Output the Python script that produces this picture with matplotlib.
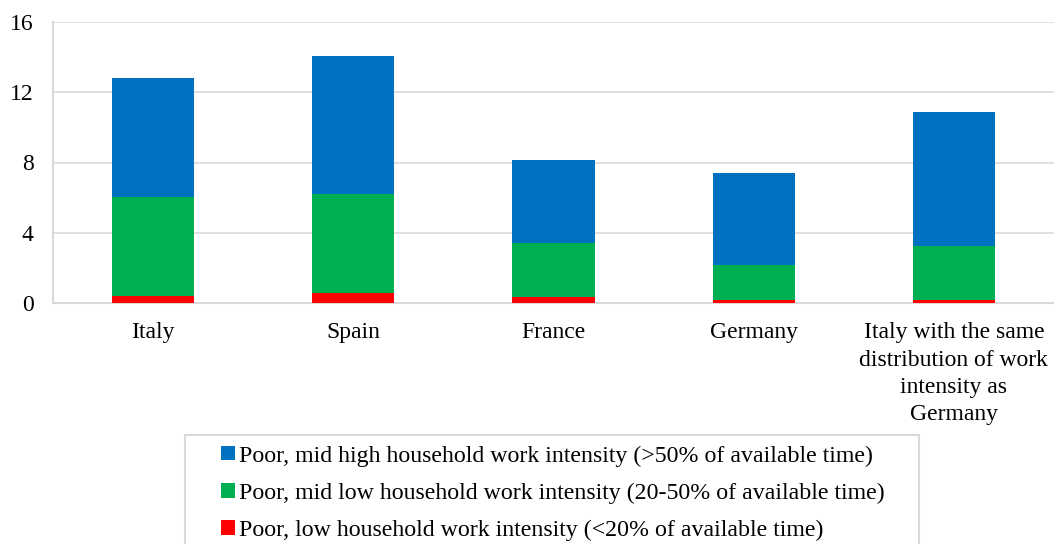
import matplotlib.pyplot as plt
import numpy as np
from matplotlib.patches import Rectangle

plt.rcParams['font.family'] = ['Liberation Serif', 'DejaVu Serif']

countries = ['Italy', 'Spain', 'France', 'Germany',
             'Italy with the same\ndistribution of work\nintensity as\nGermany']
low = [0.42, 0.59, 0.36, 0.19, 0.17]
mid_low = [5.59, 5.59, 3.07, 1.96, 3.09]
mid_high = [6.78, 7.90, 4.71, 5.25, 7.60]

labels = ['Poor, low household work intensity (<20% of available time)',
          'Poor, mid low household work intensity (20-50% of available time)',
          'Poor, mid high household work intensity (>50% of available time)']
colors = ['#FF0000', '#00B050', '#0070C0']

fig = plt.figure(figsize=(10.54, 5.44), dpi=100)
ax = fig.add_axes([53 / 1054, 1 - 303 / 544, 1 - 53 / 1054, (303 - 22) / 544])

x = np.arange(len(countries))
w = 0.41
bottom = np.zeros(len(countries))
bars = []
for vals, c, lab in zip([low, mid_low, mid_high], colors, labels):
    b = ax.bar(x, vals, w, bottom=bottom, color=c, label=lab, zorder=3)
    bars.append(b)
    bottom += np.array(vals)

fs = 17
ax.set_xlim(-0.5, 4.5)
ax.set_ylim(0, 16)
ax.set_yticks([0, 4, 8, 12, 16])
ax.set_xticks(x)
ax.set_xticklabels(countries, fontsize=fs, linespacing=1.38)
ax.tick_params(axis='y', labelsize=fs, length=0, pad=14)
ax.tick_params(axis='x', length=0, pad=14)
ax.grid(axis='y', color='#d9d9d9', lw=1.2, zorder=0)
for s in ['top', 'right']:
    ax.spines[s].set_visible(False)
for s in ['left', 'bottom']:
    ax.spines[s].set_color('#d9d9d9')
    ax.spines[s].set_linewidth(1.5)

# legend: series listed top to bottom, highest stack first
leg = fig.legend(bars[::-1], labels[::-1], loc='upper center',
                 bbox_to_anchor=(553 / 1054, 1 - 431 / 544), frameon=False,
                 fontsize=17.2, handlelength=0.56, handleheight=0.56,
                 handletextpad=0.17, labelspacing=0.67, borderpad=0.1)
fig.patches.append(Rectangle((185 / 1054, -0.05), (919 - 185) / 1054,
                             1 - 435 / 544 + 0.05, transform=fig.transFigure,
                             fill=False, edgecolor='#d9d9d9', lw=1.5))

fig.savefig('out.png', dpi=100)
